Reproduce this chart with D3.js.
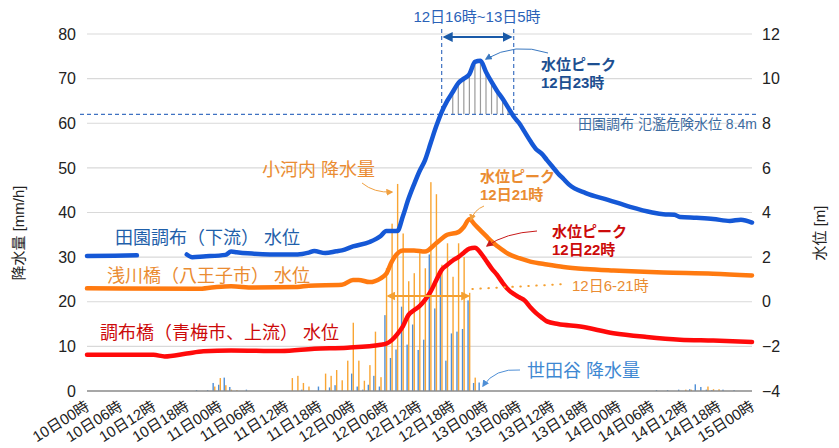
<!DOCTYPE html>
<html>
<head>
<meta charset="utf-8">
<script src="https://cdn.jsdelivr.net/npm/d3@7"></script>
<style>
    body { margin: 0; background: #fff; }
    svg text { font-family: "Liberation Sans", "Noto Sans CJK JP", sans-serif; }
</style>
</head>
<body>
<div id="chart"></div>
<script>
// x axis is hours since 10日00時
var xTickLabels = ["10日00時", "10日06時", "10日12時", "10日18時", "11日00時", "11日06時", "11日12時",
    "11日18時", "12日00時", "12日06時", "12日12時", "12日18時", "13日00時", "13日06時", "13日12時",
    "13日18時", "14日00時", "14日06時", "14日12時", "14日18時", "15日00時"];
var rainTicks = [0, 10, 20, 30, 40, 50, 60, 70, 80];
var levelTicks = [-4, -2, 0, 2, 4, 6, 8, 10, 12];

// 田園調布（下流） water level [hour, m]  (null = no data)
var denenLevel = [[0, 2.05], [5, 2.06], [9, 2.08], [10, null], [18, 2.12], [19, 2.0], [21, 2.03], [25, 2.1],
    [26, 2.25], [27, 2.22], [29, 2.17], [33, 2.12], [38, 2.12], [40, 2.2], [41, 2.27], [43, 2.18], [45, 2.26],
    [46, 2.3], [48, 2.48], [51, 2.68], [53, 2.95], [54, 3.17], [56, 3.17], [57, 3.83], [58, 4.6], [59, 5.25],
    [60, 5.85], [61, 6.35], [62, 7.1], [63, 7.85], [64, 8.5], [65, 9.0], [66, 9.4], [67, 9.8], [68, 10.0],
    [69, 10.2], [70, 10.75], [71, 10.8], [72, 10.3], [73, 9.85], [74, 9.45], [75, 9.1], [76, 8.7], [77, 8.3],
    [78, 8.0], [79, 7.6], [80, 7.2], [81, 6.85], [82, 6.65], [83, 6.35], [84, 6.05], [85, 5.75], [86, 5.5],
    [87, 5.25], [90, 4.87], [94, 4.57], [98, 4.25], [102, 4.0], [104, 3.92], [106, 3.9], [107, 3.8],
    [110, 3.76], [113, 3.71], [116, 3.62], [118, 3.68], [120, 3.55]];

// 浅川橋（八王子市） water level
var asakawaLevel = [[0, 0.6], [20, 0.58], [23, 0.65], [26, 0.69], [30, 0.64], [38, 0.66], [40, 0.72],
    [46, 0.76], [48, 0.98], [49, 0.98], [51, 0.88], [53, 1.05], [54, 1.25], [55, 1.8], [57, 2.3], [59, 2.3],
    [61, 2.25], [63, 2.62], [65, 3.0], [67, 3.12], [68, 3.35], [69, 3.7], [70, 3.45], [71, 3.2], [72, 2.95],
    [73, 2.7], [74, 2.5], [76, 2.15], [78, 1.95], [80, 1.8], [83, 1.67], [86, 1.56], [90, 1.47], [95, 1.4],
    [104, 1.31], [113, 1.26], [120, 1.18]];

// 調布橋（青梅市、上流） water level
var chofuLevel = [[0, -2.38], [12, -2.38], [14, -2.45], [18, -2.32], [21, -2.22], [26, -2.18], [35, -2.21],
    [41, -2.11], [47, -2.06], [53, -1.93], [54, -1.88], [55, -1.72], [56, -1.45], [57, -1.1], [58, -0.6],
    [59, -0.38], [60, -0.2], [61, 0.08], [62, 0.45], [63, 0.95], [64, 1.43], [65, 1.65], [66, 1.85], [67, 2.0],
    [68, 2.2], [69, 2.38], [70, 2.42], [71, 2.2], [72, 1.85], [73, 1.5], [74, 1.2], [75, 0.85], [76, 0.55],
    [77, 0.35], [78, 0.2], [79, 0.05], [80, -0.25], [81, -0.5], [82, -0.7], [83, -0.88], [85, -1.0],
    [89, -1.11], [95, -1.41], [101, -1.58], [107, -1.7], [113, -1.74], [120, -1.8]];

// hourly rainfall [hour, mm/h]
var ogochiRain = [[23, 1.0], [24, 2.9], [25, 1.3], [26, 0.3], [27, 0.2], [37, 2.9], [38, 3.4], [39, 1.8],
    [40, 1.0], [43, 3.9], [44, 3.4], [45, 4.7], [46, 2.4], [47, 6.8], [48, 15.3], [49, 6.8], [50, 2.3],
    [51, 5.8], [52, 13.3], [53, 3.1], [54, 27.5], [55, 37.5], [56, 46.4], [57, 35.3], [58, 24.6], [59, 26.4],
    [60, 30.9], [61, 27.5], [62, 46.8], [63, 44.1], [64, 28.3], [65, 33.1], [66, 25.6], [67, 33.1], [68, 30],
    [69, 22], [70, 3.0], [108, 0.3], [109, 0.3], [112, 1.0], [113, 0.4], [114, 0.4]];
var setagayaRain = [[20, 0.2], [22, 0.2], [23, 1.8], [24, 1.4], [25, 3.0], [26, 0.9], [29, 0.3], [39, 0.3],
    [42, 1.0], [44, 0.8], [45, 1.3], [48, 3.9], [49, 1.0], [50, 0.3], [51, 1.4], [52, 3.4], [53, 1.0],
    [54, 17.0], [55, 7.4], [56, 9.3], [57, 18.9], [58, 10.4], [59, 14.9], [60, 9.2], [61, 11.5], [62, 30.6],
    [63, 18.5], [64, 26.5], [65, 6.8], [66, 12.9], [67, 13.3], [68, 13.9], [69, 20.3], [70, 1.8], [71, 1.9],
    [103, 0.2], [105, 0.2], [107, 0.3], [109, 0.4], [110, 1.5], [111, 0.9], [112, 0.3], [113, 0.2],
    [115, 0.3], [117, 0.2]];

var floodLevel = 8.4;
var overFloodPeriod = [64, 77];   // 12日16時~13日5時
var heavyRainPeriod = [54, 69];   // 12日6-21時
var hatchHours = [66, 67, 68, 69, 70, 71, 72, 73, 74, 75, 76];

var width = 839, height = 448;
var plot = { left: 87, right: 752, top: 34, bottom: 391 };

var svg = d3.select("#chart").append("svg")
    .attr("width", width)
    .attr("height", height);

var defs = svg.append("defs");
function addMarker(id, color, size) {
    defs.append("marker")
        .attr("id", id)
        .attr("viewBox", "0 0 10 10")
        .attr("refX", 8).attr("refY", 5)
        .attr("markerWidth", size).attr("markerHeight", size)
        .attr("markerUnits", "userSpaceOnUse")
        .attr("orient", "auto-start-reverse")
        .append("path")
        .attr("d", "M0,0 L10,5 L0,10 z")
        .attr("fill", color);
}
addMarker("arrBlue", "#1a5aa8", 10);
addMarker("arrBlueS", "#3a78c0", 7);
addMarker("arrOrange", "#f5a030", 9);
addMarker("arrOrangeS", "#f0a040", 7);
addMarker("arrRed", "#c81a1a", 7);
addMarker("arrSky", "#4f8fd6", 7);

var xScale = d3.scaleLinear().domain([0, 120]).range([plot.left, plot.right]);
var yRain = d3.scaleLinear().domain([0, 80]).range([plot.bottom, plot.top]);
var yLevel = d3.scaleLinear().domain([-4, 12]).range([plot.bottom, plot.top]);

// gridlines
svg.append("g")
    .selectAll("line")
    .data(rainTicks.slice(1))
    .enter().append("line")
    .attr("x1", plot.left).attr("x2", plot.right)
    .attr("y1", function (d) { return yRain(d); })
    .attr("y2", function (d) { return yRain(d); })
    .attr("stroke", "#d9d9d9")
    .attr("stroke-width", 1.2);

// left axis
var yAxisLeft = d3.axisLeft(yRain).tickValues(rainTicks).tickSize(0).tickPadding(11);
svg.append("g")
    .attr("transform", "translate(" + plot.left + ",0)")
    .call(yAxisLeft)
    .call(function (g) { g.select(".domain").remove(); })
    .selectAll("text")
    .attr("font-size", 16).attr("fill", "#222");

// right axis
var yAxisRight = d3.axisRight(yLevel).tickValues(levelTicks).tickSize(0).tickPadding(10);
svg.append("g")
    .attr("transform", "translate(" + plot.right + ",0)")
    .call(yAxisRight)
    .call(function (g) { g.select(".domain").remove(); })
    .selectAll("text")
    .attr("font-size", 16).attr("fill", "#222");

// x axis labels, rotated
var xAxis = d3.axisBottom(xScale)
    .tickValues(d3.range(0, 121, 6))
    .tickSize(0)
    .tickFormat(function (d, i) { return xTickLabels[i]; });
svg.append("g")
    .attr("transform", "translate(0," + plot.bottom + ")")
    .call(xAxis)
    .call(function (g) { g.select(".domain").remove(); })
    .selectAll("text")
    .attr("font-size", 15).attr("fill", "#222")
    .attr("text-anchor", "end")
    .attr("x", 0).attr("y", 0).attr("dy", 0)
    .attr("transform", "translate(3,18) rotate(-32)");

// rainfall bars
svg.append("g").selectAll("rect")
    .data(setagayaRain)
    .enter().append("rect")
    .attr("x", function (d) { return xScale(d[0]) - 2.0; })
    .attr("width", 1.4)
    .attr("y", function (d) { return yRain(d[1]); })
    .attr("height", function (d) { return yRain(0) - yRain(d[1]); })
    .attr("fill", "#4f8fd6");

svg.append("g").selectAll("rect")
    .data(ogochiRain)
    .enter().append("rect")
    .attr("x", function (d) { return xScale(d[0]) - 0.4; })
    .attr("width", 1.4)
    .attr("y", function (d) { return yRain(d[1]); })
    .attr("height", function (d) { return yRain(0) - yRain(d[1]); })
    .attr("fill", "#f9a533");

// baseline
svg.append("line")
    .attr("x1", plot.left).attr("x2", plot.right)
    .attr("y1", yRain(0)).attr("y2", yRain(0))
    .attr("stroke", "#8a8a8a").attr("stroke-width", 1.5);

// hatch over the flood level
var denenMap = new Map(denenLevel);
svg.append("g").selectAll("line")
    .data(hatchHours)
    .enter().append("line")
    .attr("x1", function (d) { return xScale(d); })
    .attr("x2", function (d) { return xScale(d); })
    .attr("y1", yLevel(floodLevel))
    .attr("y2", function (d) { return yLevel(denenMap.get(d)); })
    .attr("stroke", "#9a9a9a").attr("stroke-width", 1.2);

// flood level and period lines
svg.append("line")
    .attr("x1", 80).attr("x2", 757)
    .attr("y1", yLevel(floodLevel)).attr("y2", yLevel(floodLevel))
    .attr("stroke", "#3f72c2").attr("stroke-width", 1.2)
    .attr("stroke-dasharray", "4,3");
svg.append("g").selectAll("line")
    .data(overFloodPeriod)
    .enter().append("line")
    .attr("x1", function (d) { return xScale(d); })
    .attr("x2", function (d) { return xScale(d); })
    .attr("y1", 29).attr("y2", yLevel(floodLevel))
    .attr("stroke", "#3f72c2").attr("stroke-width", 1.2)
    .attr("stroke-dasharray", "4,3");

// water level lines
var levelLine = d3.line()
    .defined(function (d) { return d[1] != null; })
    .curve(d3.curveMonotoneX)
    .x(function (d) { return xScale(d[0]); })
    .y(function (d) { return yLevel(d[1]); });

[[asakawaLevel, "#ff7a10"], [chofuLevel, "#ff0a0a"], [denenLevel, "#1558d6"]].forEach(function (s) {
    svg.append("path")
        .datum(s[0])
        .attr("fill", "none")
        .attr("stroke", s[1])
        .attr("stroke-width", 4.5)
        .attr("stroke-linejoin", "round")
        .attr("stroke-linecap", "round")
        .attr("d", levelLine);
});

// annotations
function label(x, y, text, color, size, weight, anchor) {
    svg.append("text")
        .attr("x", x).attr("y", y)
        .attr("fill", color)
        .attr("font-size", size)
        .attr("font-weight", weight || "normal")
        .attr("text-anchor", anchor || "start")
        .text(text);
}

label(477, 22, "12日16時~13日5時", "#2a62b8", 15, "normal", "middle");
svg.append("line")
    .attr("x1", xScale(overFloodPeriod[0]) + 3).attr("x2", xScale(overFloodPeriod[1]) - 3)
    .attr("y1", 37).attr("y2", 37)
    .attr("stroke", "#1a5aa8").attr("stroke-width", 2.2)
    .attr("marker-start", "url(#arrBlue)").attr("marker-end", "url(#arrBlue)");

label(541, 70, "水位ピーク", "#1d4f91", 15, "bold");
label(541, 88, "12日23時", "#1d4f91", 15, "bold");
svg.append("path")
    .attr("d", "M548,53 Q515,42 486,59")
    .attr("fill", "none").attr("stroke", "#3a78c0").attr("stroke-width", 1)
    .attr("marker-end", "url(#arrBlueS)");

label(757, 129, "田園調布 氾濫危険水位 8.4m", "#3b6aa0", 14, "normal", "end");

label(262, 176, "小河内 降水量", "#ea8c32", 18);
svg.append("path")
    .attr("d", "M362,183 Q374,193 392,192")
    .attr("fill", "none").attr("stroke", "#f0a040").attr("stroke-width", 1)
    .attr("marker-end", "url(#arrOrangeS)");

label(480, 182, "水位ピーク", "#ea8c32", 15, "bold");
label(480, 200, "12日21時", "#ea8c32", 15, "bold");
svg.append("path")
    .attr("d", "M484,206 Q474,210 471,220")
    .attr("fill", "none").attr("stroke", "#f0a040").attr("stroke-width", 1)
    .attr("marker-end", "url(#arrOrangeS)");

label(552, 237, "水位ピーク", "#cc0a0a", 15, "bold");
label(552, 255, "12日22時", "#cc0a0a", 15, "bold");
svg.append("path")
    .attr("d", "M537,231 Q505,233 487,246")
    .attr("fill", "none").attr("stroke", "#c81a1a").attr("stroke-width", 1)
    .attr("marker-end", "url(#arrRed)");

label(115, 244, "田園調布（下流） 水位", "#1f5faa", 18);
label(107, 282, "浅川橋（八王子市） 水位", "#ea8c32", 18);
label(100, 339, "調布橋（青梅市、上流） 水位", "#cc0a0a", 18);

// 12日6-21時 heavy rain period
svg.append("line")
    .attr("x1", xScale(heavyRainPeriod[0]) + 2).attr("x2", xScale(heavyRainPeriod[1]) - 1)
    .attr("y1", 296).attr("y2", 296)
    .attr("stroke", "#f5a030").attr("stroke-width", 2)
    .attr("marker-start", "url(#arrOrange)").attr("marker-end", "url(#arrOrange)");
svg.append("line")
    .attr("x1", xScale(heavyRainPeriod[1]) + 3).attr("x2", 566)
    .attr("y1", 289).attr("y2", 284)
    .attr("stroke", "#f5a030").attr("stroke-width", 2)
    .attr("stroke-linecap", "round")
    .attr("stroke-dasharray", "0.5,7.5");
label(572, 291, "12日6-21時", "#ea8c32", 15);

label(527, 377, "世田谷 降水量", "#3e88d2", 18);
svg.append("path")
    .attr("d", "M520,370 Q495,368 483,386")
    .attr("fill", "none").attr("stroke", "#4f8fd6").attr("stroke-width", 1)
    .attr("marker-end", "url(#arrSky)");

// axis titles
svg.append("text")
    .attr("transform", "translate(24,233) rotate(-90)")
    .attr("text-anchor", "middle")
    .attr("font-size", 15).attr("fill", "#222")
    .text("降水量 [mm/h]");
svg.append("text")
    .attr("transform", "translate(825,233) rotate(-90)")
    .attr("text-anchor", "middle")
    .attr("font-size", 15).attr("fill", "#222")
    .text("水位 [m]");
</script>
</body>
</html>
